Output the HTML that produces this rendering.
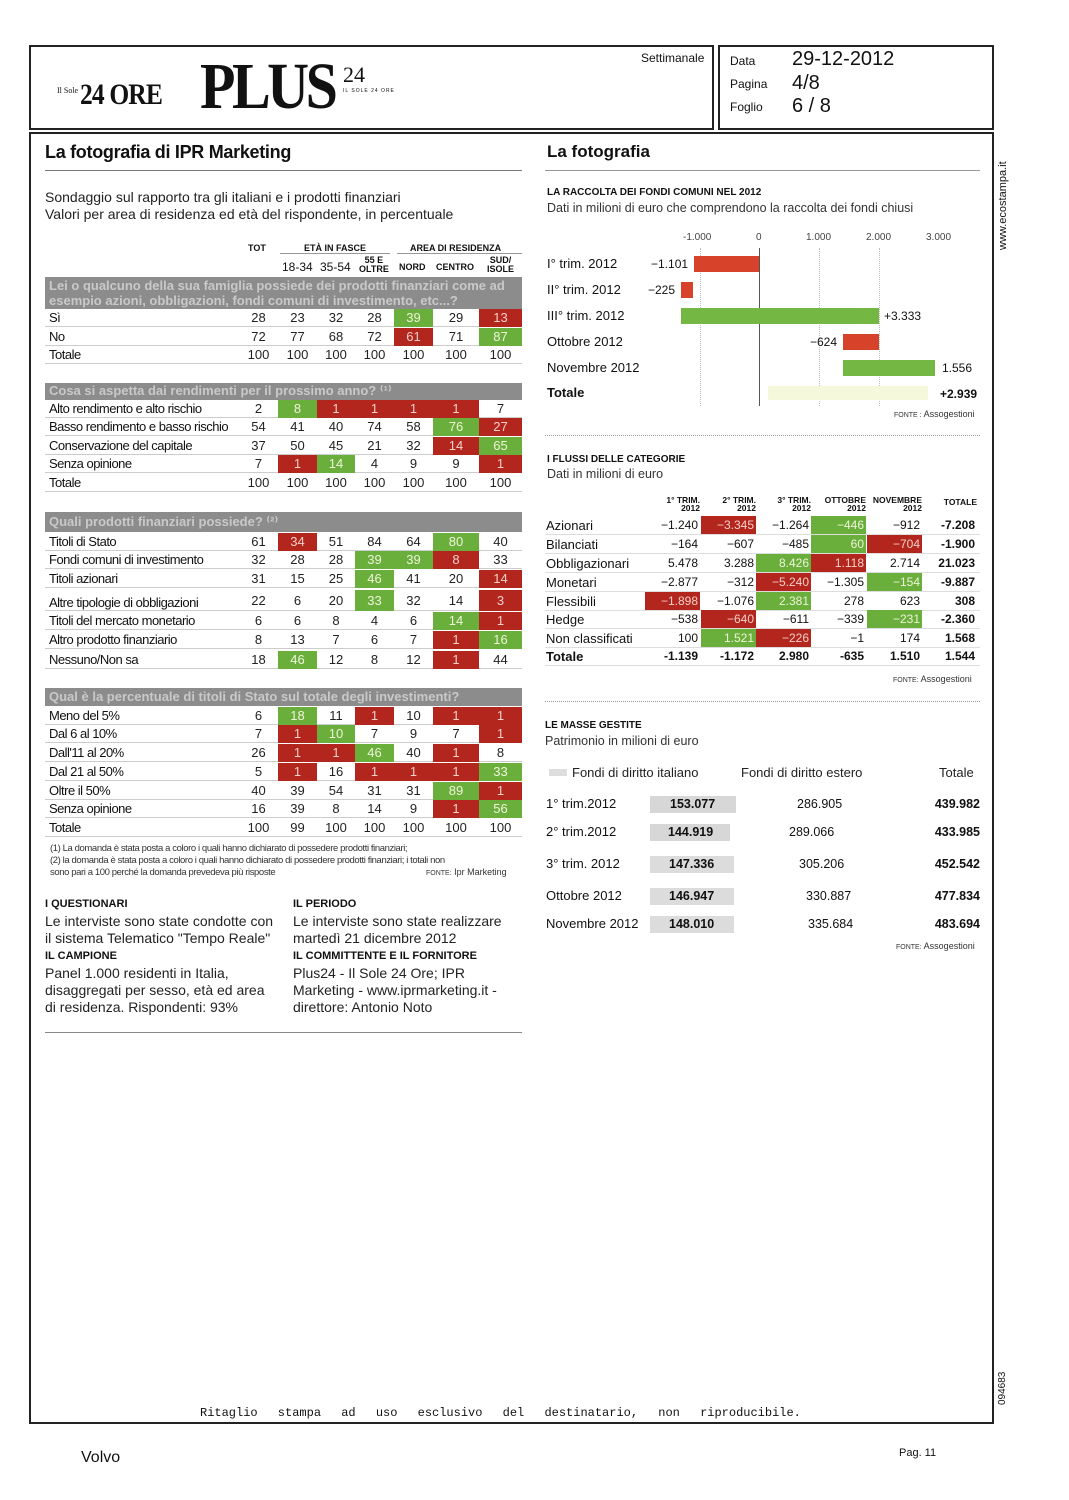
<!DOCTYPE html>
<html><head><meta charset="utf-8">
<style>
*{margin:0;padding:0;box-sizing:border-box}
body{width:1069px;height:1500px;background:#fff;position:relative;font-family:"Liberation Sans","DejaVu Sans",sans-serif;color:#111;overflow:hidden}
.a{position:absolute;white-space:nowrap}
.box{position:absolute;border:2px solid #222}
.r{position:absolute;left:45px;width:477px;height:18px;font-size:13px;line-height:18px;border-bottom:1px solid #ccc}
.r .l{position:absolute;left:4px;top:0;letter-spacing:-0.5px}
.r i{position:absolute;top:0;height:18px;text-align:center;font-style:normal;color:#222}
.c0{left:195px;width:37px}.c1{left:233px;width:39px}.c2{left:272px;width:38px}.c3{left:310px;width:39px}.c4{left:349px;width:39px}.c5{left:388px;width:46px}.c6{left:434px;width:43px}
i.g{background:#6aae3c;color:#eef5d8!important}
i.d{background:#b3261e;color:#f3d0c8!important}
.bar{position:absolute;left:45px;width:477px;background:#8c8c8c;color:#c9c9c9;font-weight:bold;font-size:13px;line-height:16px;padding-left:4px;overflow:hidden}
.f{position:absolute;left:545px;width:435px;height:19px;font-size:12px;line-height:19px;border-bottom:1px solid #ddd}
.f .l{position:absolute;left:1px;font-size:13px}
.f i{position:absolute;top:0;width:55px;height:18px;text-align:right;padding-right:2px;font-style:normal}
.k1{left:100px}.k2{left:156px}.k3{left:211px}.k4{left:266px}.k5{left:322px}.k6{left:377px;font-weight:bold}
.m{position:absolute;left:545px;width:435px;height:18px;font-size:12.5px;line-height:18px}
</style></head><body>

<div class="box" style="left:29px;top:45px;width:685px;height:85px"></div>
<div class="box" style="left:718px;top:45px;width:276px;height:85px"></div>
<div class="a" style="left:712px;top:45px;width:2px;height:85px;background:#222"></div>
<div class="a" style="left:641px;top:51px;font-size:12px">Settimanale</div>
<div class="a" style="left:57px;top:86px;font-size:8px;font-family:'Liberation Serif',serif">Il Sole</div>
<div class="a" style="left:80px;top:78px;font-size:30px;font-weight:bold;font-family:'Liberation Serif',serif;letter-spacing:-1px;transform:scaleX(0.85);transform-origin:left">24 ORE</div>
<div class="a" style="left:200px;top:52px;font-size:66px;font-weight:bold;font-family:'Liberation Serif',serif;letter-spacing:-4px;line-height:70px;transform:scaleX(0.88);transform-origin:left">PLUS</div>
<div class="a" style="left:343px;top:62px;font-size:22px;font-family:'Liberation Serif',serif">24</div>
<div class="a" style="left:343px;top:88px;font-size:5px;letter-spacing:1px">IL SOLE 24 ORE</div>
<div class="a" style="left:730px;top:54px;font-size:12px">Data</div>
<div class="a" style="left:792px;top:48px;font-size:20px">29-12-2012</div>
<div class="a" style="left:730px;top:77px;font-size:12px">Pagina</div>
<div class="a" style="left:792px;top:72px;font-size:20px">4/8</div>
<div class="a" style="left:730px;top:100px;font-size:12px">Foglio</div>
<div class="a" style="left:792px;top:95px;font-size:20px">6 / 8</div>

<div class="box" style="left:29px;top:132px;width:965px;height:1292px"></div>
<div class="a" style="left:997px;top:250px;font-size:11px;transform:rotate(-90deg);transform-origin:left top">www.ecostampa.it</div>
<div class="a" style="left:997px;top:1405px;font-size:10px;transform:rotate(-90deg);transform-origin:left top">094683</div>
<div class="a" style="left:200px;top:1406px;font-size:12px;font-family:'Liberation Mono',monospace;word-spacing:13px">Ritaglio stampa ad uso esclusivo del destinatario, non riproducibile.</div>
<div class="a" style="left:81px;top:1449px;font-size:16px">Volvo</div>
<div class="a" style="left:899px;top:1447px;font-size:11px">Pag. 11</div>

<!-- LEFT -->
<div class="a" style="left:45px;top:142px;font-size:18px;font-weight:bold;letter-spacing:-0.3px">La fotografia di IPR Marketing</div>
<div class="a" style="left:45px;top:170px;width:477px;height:1px;background:#777"></div>
<div class="a" style="left:45px;top:189px;font-size:14px;line-height:17px;color:#222">Sondaggio sul rapporto tra gli italiani e i prodotti finanziari<br>Valori per area di residenza ed età del rispondente, in percentuale</div>

<div class="a" style="left:248px;top:243px;font-size:9px;font-weight:bold">TOT</div>
<div class="a" style="left:304px;top:243px;font-size:9px;font-weight:bold">ETÀ IN FASCE</div>
<div class="a" style="left:280px;top:253px;width:110px;height:1px;background:#999"></div>
<div class="a" style="left:410px;top:243px;font-size:9px;font-weight:bold">AREA DI RESIDENZA</div>
<div class="a" style="left:397px;top:253px;width:125px;height:1px;background:#999"></div>
<div class="a" style="left:282px;top:260px;font-size:12px">18-34</div>
<div class="a" style="left:320px;top:260px;font-size:12px">35-54</div>
<div class="a" style="left:359px;top:256px;font-size:9px;font-weight:bold;line-height:9px;text-align:center">55 E<br>OLTRE</div>
<div class="a" style="left:399px;top:262px;font-size:9px;font-weight:bold">NORD</div>
<div class="a" style="left:436px;top:262px;font-size:9px;font-weight:bold">CENTRO</div>
<div class="a" style="left:487px;top:256px;font-size:9px;font-weight:bold;line-height:9px;text-align:center">SUD/<br>ISOLE</div>

<div class="bar" style="top:277px;height:32px;line-height:15px;padding-top:1px">Lei o qualcuno della sua famiglia possiede dei prodotti finanziari come ad<br>esempio azioni, obbligazioni, fondi comuni di investimento, etc...?</div>
<div class="r" style="top:309px"><span class="l">Sì</span><i class="c0">28</i><i class="c1">23</i><i class="c2">32</i><i class="c3">28</i><i class="c4 g">39</i><i class="c5">29</i><i class="c6 d">13</i></div>
<div class="r" style="top:328px"><span class="l">No</span><i class="c0">72</i><i class="c1">77</i><i class="c2">68</i><i class="c3">72</i><i class="c4 d">61</i><i class="c5">71</i><i class="c6 g">87</i></div>
<div class="r" style="top:346px"><span class="l">Totale</span><i class="c0">100</i><i class="c1">100</i><i class="c2">100</i><i class="c3">100</i><i class="c4">100</i><i class="c5">100</i><i class="c6">100</i></div>

<div class="bar" style="top:383px;height:17px">Cosa si aspetta dai rendimenti per il prossimo anno? ⁽¹⁾</div>
<div class="r" style="top:400px"><span class="l">Alto rendimento e alto rischio</span><i class="c0">2</i><i class="c1 g">8</i><i class="c2 d">1</i><i class="c3 d">1</i><i class="c4 d">1</i><i class="c5 d">1</i><i class="c6">7</i></div>
<div class="r" style="top:418px"><span class="l">Basso rendimento e basso rischio</span><i class="c0">54</i><i class="c1">41</i><i class="c2">40</i><i class="c3">74</i><i class="c4">58</i><i class="c5 g">76</i><i class="c6 d">27</i></div>
<div class="r" style="top:437px"><span class="l">Conservazione del capitale</span><i class="c0">37</i><i class="c1">50</i><i class="c2">45</i><i class="c3">21</i><i class="c4">32</i><i class="c5 d">14</i><i class="c6 g">65</i></div>
<div class="r" style="top:455px"><span class="l">Senza opinione</span><i class="c0">7</i><i class="c1 d">1</i><i class="c2 g">14</i><i class="c3">4</i><i class="c4">9</i><i class="c5">9</i><i class="c6 d">1</i></div>
<div class="r" style="top:474px"><span class="l">Totale</span><i class="c0">100</i><i class="c1">100</i><i class="c2">100</i><i class="c3">100</i><i class="c4">100</i><i class="c5">100</i><i class="c6">100</i></div>

<div class="bar" style="top:512px;height:20px;line-height:20px">Quali prodotti finanziari possiede? ⁽²⁾</div>
<div class="r" style="top:533px"><span class="l">Titoli di Stato</span><i class="c0">61</i><i class="c1 d">34</i><i class="c2">51</i><i class="c3">84</i><i class="c4">64</i><i class="c5 g">80</i><i class="c6">40</i></div>
<div class="r" style="top:551px"><span class="l">Fondi comuni di investimento</span><i class="c0">32</i><i class="c1">28</i><i class="c2">28</i><i class="c3 g">39</i><i class="c4 g">39</i><i class="c5 d">8</i><i class="c6">33</i></div>
<div class="r" style="top:570px"><span class="l">Titoli azionari</span><i class="c0">31</i><i class="c1">15</i><i class="c2">25</i><i class="c3 g">46</i><i class="c4">41</i><i class="c5">20</i><i class="c6 d">14</i></div>
<div class="r" style="top:590px;height:21px;line-height:21px"><span class="l" style="top:2px">Altre tipologie di obbligazioni</span><i class="c0">22</i><i class="c1">6</i><i class="c2">20</i><i class="c3 g" style="height:21px">33</i><i class="c4">32</i><i class="c5">14</i><i class="c6 d" style="height:21px">3</i></div>
<div class="r" style="top:612px"><span class="l">Titoli del mercato monetario</span><i class="c0">6</i><i class="c1">6</i><i class="c2">8</i><i class="c3">4</i><i class="c4">6</i><i class="c5 g">14</i><i class="c6 d">1</i></div>
<div class="r" style="top:631px"><span class="l">Altro prodotto finanziario</span><i class="c0">8</i><i class="c1">13</i><i class="c2">7</i><i class="c3">6</i><i class="c4">7</i><i class="c5 d">1</i><i class="c6 g">16</i></div>
<div class="r" style="top:651px"><span class="l">Nessuno/Non sa</span><i class="c0">18</i><i class="c1 g">46</i><i class="c2">12</i><i class="c3">8</i><i class="c4">12</i><i class="c5 d">1</i><i class="c6">44</i></div>

<div class="bar" style="top:688px;height:18px;line-height:18px">Qual è la percentuale di titoli di Stato sul totale degli investimenti?</div>
<div class="r" style="top:707px"><span class="l">Meno del 5%</span><i class="c0">6</i><i class="c1 g">18</i><i class="c2">11</i><i class="c3 d">1</i><i class="c4">10</i><i class="c5 d">1</i><i class="c6 d">1</i></div>
<div class="r" style="top:725px"><span class="l">Dal 6 al 10%</span><i class="c0">7</i><i class="c1 d">1</i><i class="c2 g">10</i><i class="c3">7</i><i class="c4">9</i><i class="c5">7</i><i class="c6 d">1</i></div>
<div class="r" style="top:744px"><span class="l">Dall'11 al 20%</span><i class="c0">26</i><i class="c1 d">1</i><i class="c2 d">1</i><i class="c3 g">46</i><i class="c4">40</i><i class="c5 d">1</i><i class="c6">8</i></div>
<div class="r" style="top:763px"><span class="l">Dal 21 al 50%</span><i class="c0">5</i><i class="c1 d">1</i><i class="c2">16</i><i class="c3 d">1</i><i class="c4 d">1</i><i class="c5 d">1</i><i class="c6 g">33</i></div>
<div class="r" style="top:782px"><span class="l">Oltre il 50%</span><i class="c0">40</i><i class="c1">39</i><i class="c2">54</i><i class="c3">31</i><i class="c4">31</i><i class="c5 g">89</i><i class="c6 d">1</i></div>
<div class="r" style="top:800px"><span class="l">Senza opinione</span><i class="c0">16</i><i class="c1">39</i><i class="c2">8</i><i class="c3">14</i><i class="c4">9</i><i class="c5 d">1</i><i class="c6 g">56</i></div>
<div class="r" style="top:819px"><span class="l">Totale</span><i class="c0">100</i><i class="c1">99</i><i class="c2">100</i><i class="c3">100</i><i class="c4">100</i><i class="c5">100</i><i class="c6">100</i></div>

<div class="a" style="left:50px;top:843px;font-size:9.5px;line-height:12px;letter-spacing:-0.4px;color:#333">(1) La domanda è stata posta a coloro i quali hanno dichiarato di possedere prodotti finanziari;<br>(2) la domanda è stata posta a coloro i quali hanno dichiarato di possedere prodotti finanziari; i totali non<br>sono pari a 100 perché la domanda prevedeva più risposte</div>
<div class="a" style="left:426px;top:867px;font-size:9px;color:#333"><span style="font-size:7px">FONTE:</span> Ipr Marketing</div>

<div class="a" style="left:45px;top:898px;font-size:11px;font-weight:bold">I QUESTIONARI</div>
<div class="a" style="left:45px;top:913px;font-size:14px;line-height:17px;color:#222">Le interviste sono state condotte con<br>il sistema Telematico "Tempo Reale"</div>
<div class="a" style="left:45px;top:950px;font-size:11px;font-weight:bold">IL CAMPIONE</div>
<div class="a" style="left:45px;top:965px;font-size:14px;line-height:17px;color:#222">Panel 1.000 residenti in Italia,<br>disaggregati per sesso, età ed area<br>di residenza. Rispondenti: 93%</div>
<div class="a" style="left:293px;top:898px;font-size:11px;font-weight:bold">IL PERIODO</div>
<div class="a" style="left:293px;top:913px;font-size:14px;line-height:17px;color:#222">Le interviste sono state realizzare<br>martedì 21 dicembre 2012</div>
<div class="a" style="left:293px;top:950px;font-size:11px;font-weight:bold">IL COMMITTENTE E IL FORNITORE</div>
<div class="a" style="left:293px;top:965px;font-size:14px;line-height:17px;color:#222">Plus24 - Il Sole 24 Ore; IPR<br>Marketing - www.iprmarketing.it -<br>direttore: Antonio Noto</div>
<div class="a" style="left:45px;top:1032px;width:477px;height:1px;background:#888"></div>

<!-- RIGHT -->
<div class="a" style="left:547px;top:142px;font-size:17px;font-weight:bold">La fotografia</div>
<div class="a" style="left:545px;top:170px;width:435px;height:1px;background:#999"></div>
<div class="a" style="left:547px;top:187px;font-size:10px;font-weight:bold">LA RACCOLTA DEI FONDI COMUNI NEL 2012</div>
<div class="a" style="left:547px;top:201px;font-size:12.5px;color:#333">Dati in milioni di euro che comprendono la raccolta dei fondi chiusi</div>

<div class="a" style="left:683px;top:232px;font-size:10px;color:#444">-1.000</div>
<div class="a" style="left:756px;top:232px;font-size:10px;color:#444">0</div>
<div class="a" style="left:806px;top:232px;font-size:10px;color:#444">1.000</div>
<div class="a" style="left:866px;top:232px;font-size:10px;color:#444">2.000</div>
<div class="a" style="left:926px;top:232px;font-size:10px;color:#444">3.000</div>
<div class="a" style="left:759px;top:248px;width:1px;height:158px;background:#555"></div>
<div class="a" style="left:819px;top:248px;width:0;height:158px;border-left:1px dotted #bbb"></div>
<div class="a" style="left:879px;top:248px;width:0;height:158px;border-left:1px dotted #bbb"></div>
<div class="a" style="left:700px;top:248px;width:0;height:158px;border-left:1px dotted #bbb"></div>
<div class="a" style="left:694px;top:256px;width:65px;height:16px;background:#d6432a"></div>
<div class="a" style="left:681px;top:282px;width:12px;height:16px;background:#d6432a"></div>
<div class="a" style="left:681px;top:308px;width:198px;height:16px;background:#74b843"></div>
<div class="a" style="left:843px;top:334px;width:36px;height:16px;background:#d6432a"></div>
<div class="a" style="left:843px;top:360px;width:92px;height:16px;background:#74b843"></div>
<div class="a" style="left:768px;top:386px;width:160px;height:14px;background:#f6f8dc"></div>
<div class="a" style="left:547px;top:256px;font-size:13px">I° trim. 2012</div>
<div class="a" style="left:547px;top:282px;font-size:13px">II° trim. 2012</div>
<div class="a" style="left:547px;top:308px;font-size:13px">III° trim. 2012</div>
<div class="a" style="left:547px;top:334px;font-size:13px">Ottobre 2012</div>
<div class="a" style="left:547px;top:360px;font-size:13px">Novembre 2012</div>
<div class="a" style="left:547px;top:385px;font-size:13px;font-weight:bold">Totale</div>
<div class="a" style="left:651px;top:257px;font-size:12px">−1.101</div>
<div class="a" style="left:648px;top:283px;font-size:12px">−225</div>
<div class="a" style="left:884px;top:309px;font-size:12px">+3.333</div>
<div class="a" style="left:810px;top:335px;font-size:12px">−624</div>
<div class="a" style="left:942px;top:361px;font-size:12px">1.556</div>
<div class="a" style="left:940px;top:387px;font-size:12px;font-weight:bold">+2.939</div>
<div class="a" style="left:894px;top:409px;font-size:9px;color:#333"><span style="font-size:7px">FONTE :</span> Assogestioni</div>
<div class="a" style="left:545px;top:435px;width:435px;border-top:1px dotted #999"></div>

<div class="a" style="left:547px;top:454px;font-size:10px;font-weight:bold">I FLUSSI DELLE CATEGORIE</div>
<div class="a" style="left:547px;top:467px;font-size:12.5px;color:#333">Dati in milioni di euro</div>
<div class="a" style="left:645px;top:496px;width:55px;font-size:8.5px;font-weight:bold;line-height:8px;text-align:right">1° TRIM.<br>2012</div>
<div class="a" style="left:701px;top:496px;width:55px;font-size:8.5px;font-weight:bold;line-height:8px;text-align:right">2° TRIM.<br>2012</div>
<div class="a" style="left:756px;top:496px;width:55px;font-size:8.5px;font-weight:bold;line-height:8px;text-align:right">3° TRIM.<br>2012</div>
<div class="a" style="left:811px;top:496px;width:55px;font-size:8.5px;font-weight:bold;line-height:8px;text-align:right">OTTOBRE<br>2012</div>
<div class="a" style="left:866px;top:496px;width:56px;font-size:8.5px;font-weight:bold;line-height:8px;text-align:right">NOVEMBRE<br>2012</div>
<div class="a" style="left:922px;top:497px;width:55px;font-size:8.5px;font-weight:bold;text-align:right">TOTALE</div>
<div class="f" style="top:516px"><span class="l">Azionari</span><i class="k1">−1.240</i><i class="k2 d">−3.345</i><i class="k3">−1.264</i><i class="k4 g">−446</i><i class="k5">−912</i><i class="k6">-7.208</i></div>
<div class="f" style="top:535px"><span class="l">Bilanciati</span><i class="k1">−164</i><i class="k2">−607</i><i class="k3">−485</i><i class="k4 g">60</i><i class="k5 d">−704</i><i class="k6">-1.900</i></div>
<div class="f" style="top:554px"><span class="l">Obbligazionari</span><i class="k1">5.478</i><i class="k2">3.288</i><i class="k3 g">8.426</i><i class="k4 d">1.118</i><i class="k5">2.714</i><i class="k6">21.023</i></div>
<div class="f" style="top:573px"><span class="l">Monetari</span><i class="k1">−2.877</i><i class="k2">−312</i><i class="k3 d">−5.240</i><i class="k4">−1.305</i><i class="k5 g">−154</i><i class="k6">-9.887</i></div>
<div class="f" style="top:592px"><span class="l">Flessibili</span><i class="k1 d">−1.898</i><i class="k2">−1.076</i><i class="k3 g">2.381</i><i class="k4">278</i><i class="k5">623</i><i class="k6">308</i></div>
<div class="f" style="top:610px"><span class="l">Hedge</span><i class="k1">−538</i><i class="k2 d">−640</i><i class="k3">−611</i><i class="k4">−339</i><i class="k5 g">−231</i><i class="k6">-2.360</i></div>
<div class="f" style="top:629px"><span class="l">Non classificati</span><i class="k1">100</i><i class="k2 g">1.521</i><i class="k3 d">−226</i><i class="k4">−1</i><i class="k5">174</i><i class="k6">1.568</i></div>
<div class="f" style="top:647px;font-weight:bold"><span class="l">Totale</span><i class="k1">-1.139</i><i class="k2">-1.172</i><i class="k3">2.980</i><i class="k4">-635</i><i class="k5">1.510</i><i class="k6">1.544</i></div>
<div class="a" style="left:893px;top:674px;font-size:9px;color:#333"><span style="font-size:7px">FONTE:</span> Assogestioni</div>
<div class="a" style="left:545px;top:701px;width:435px;border-top:1px dotted #999"></div>

<div class="a" style="left:545px;top:720px;font-size:10px;font-weight:bold">LE MASSE GESTITE</div>
<div class="a" style="left:545px;top:734px;font-size:12.5px;color:#333">Patrimonio in milioni di euro</div>
<div class="a" style="left:549px;top:769px;width:18px;height:7px;background:#ddd"></div>
<div class="a" style="left:572px;top:765px;font-size:13px;color:#222">Fondi di diritto italiano</div>
<div class="a" style="left:741px;top:765px;font-size:13px;color:#222">Fondi di diritto estero</div>
<div class="a" style="left:939px;top:765px;font-size:13px;color:#222">Totale</div>
<div class="a" style="left:650px;top:796px;width:86px;height:17px;background:#d7d7d7"></div>
<div class="a" style="left:650px;top:824px;width:80px;height:17px;background:#d7d7d7"></div>
<div class="a" style="left:650px;top:856px;width:84px;height:17px;background:#dcdcdc"></div>
<div class="a" style="left:650px;top:888px;width:84px;height:17px;background:#dcdcdc"></div>
<div class="a" style="left:650px;top:916px;width:84px;height:17px;background:#dcdcdc"></div>
<div class="m" style="top:795px"><span class="a" style="left:1px;font-size:13px">1° trim.2012</span><span class="a" style="left:125px;font-weight:bold">153.077</span><span class="a" style="left:252px">286.905</span><span class="a" style="right:0;font-weight:bold">439.982</span></div>
<div class="m" style="top:823px"><span class="a" style="left:1px;font-size:13px">2° trim.2012</span><span class="a" style="left:123px;font-weight:bold">144.919</span><span class="a" style="left:244px">289.066</span><span class="a" style="right:0;font-weight:bold">433.985</span></div>
<div class="m" style="top:855px"><span class="a" style="left:1px;font-size:13px">3° trim. 2012</span><span class="a" style="left:124px;font-weight:bold">147.336</span><span class="a" style="left:254px">305.206</span><span class="a" style="right:0;font-weight:bold">452.542</span></div>
<div class="m" style="top:887px"><span class="a" style="left:1px;font-size:13px">Ottobre 2012</span><span class="a" style="left:124px;font-weight:bold">146.947</span><span class="a" style="left:261px">330.887</span><span class="a" style="right:0;font-weight:bold">477.834</span></div>
<div class="m" style="top:915px"><span class="a" style="left:1px;font-size:13px">Novembre 2012</span><span class="a" style="left:124px;font-weight:bold">148.010</span><span class="a" style="left:263px">335.684</span><span class="a" style="right:0;font-weight:bold">483.694</span></div>
<div class="a" style="left:896px;top:941px;font-size:9px;color:#333"><span style="font-size:7px">FONTE:</span> Assogestioni</div>
</body></html>
